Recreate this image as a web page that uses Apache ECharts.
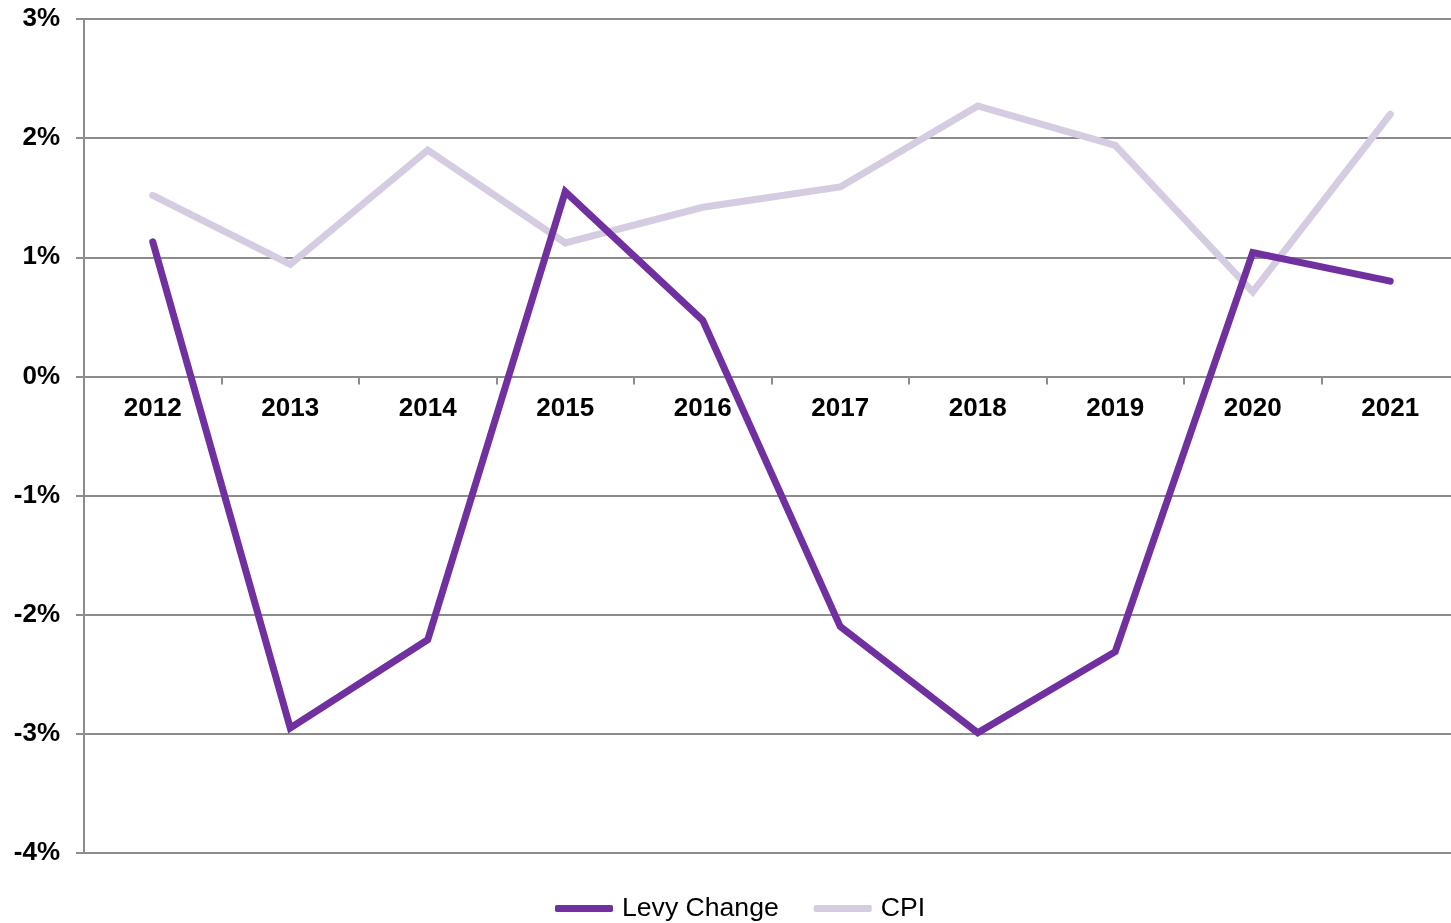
<!DOCTYPE html>
<html>
<head>
<meta charset="utf-8">
<script src="https://cdn.jsdelivr.net/npm/echarts@6/dist/echarts.min.js"></script>
<style>
  html, body { margin: 0; padding: 0; background: #ffffff; overflow: hidden; }
  #chart { width: 1451px; height: 923px; }
</style>
</head>
<body>
<div id="chart"></div>
<script>
// Annual levy change versus CPI, in percent
const years = ['2012', '2013', '2014', '2015', '2016', '2017', '2018', '2019', '2020', '2021'];
const levyChange = [1.13, -2.95, -2.21, 1.55, 0.47, -2.10, -2.99, -2.31, 1.04, 0.80];
const cpi = [1.52, 0.94, 1.90, 1.12, 1.42, 1.59, 2.27, 1.94, 0.71, 2.20];

const axisGrey = '#8c8c8c';
const font = '"Liberation Sans", Arial, sans-serif';

// plot box: the last category runs slightly past the right edge of the canvas
const plotTop = 19;
const plotHeight = 834;
const yMin = -4, yMax = 3;
// shift the category axis up so it sits on the 0% line
const zeroOffset = -plotHeight * (0 - yMin) / (yMax - yMin);

const chart = echarts.init(document.getElementById('chart'), null, { renderer: 'canvas' });

chart.setOption({
  animation: false,
  backgroundColor: '#ffffff',
  grid: {
    left: 84, width: 1375, top: plotTop, height: plotHeight,
    containLabel: false, outerBoundsMode: 'none'
  },
  legend: {
    left: 550,
    top: 890,
    itemWidth: 58,
    itemHeight: 7,
    itemGap: 35,
    icon: 'roundRect',
    textStyle: { fontFamily: font, fontSize: 26.6, color: '#000000', padding: [0, 0, 0, 4] },
    data: ['Levy Change', 'CPI']
  },
  xAxis: {
    type: 'category',
    data: years,
    boundaryGap: true,
    position: 'bottom',
    offset: zeroOffset,
    axisLine: { onZero: false, lineStyle: { color: axisGrey, width: 2 } },
    axisTick: { show: true, length: 8, inside: false, lineStyle: { color: axisGrey, width: 2 } },
    axisLabel: { margin: 19, fontFamily: font, fontSize: 26, fontWeight: 'bold', color: '#000000' },
    splitLine: { show: false }
  },
  yAxis: {
    type: 'value',
    min: yMin,
    max: yMax,
    interval: 1,
    axisLine: { show: true, lineStyle: { color: axisGrey, width: 2 } },
    axisTick: { show: true, length: 8, lineStyle: { color: axisGrey, width: 2 } },
    axisLabel: {
      margin: 24,
      fontFamily: font,
      fontSize: 26,
      fontWeight: 'bold',
      color: '#000000',
      formatter: v => v + '%'
    },
    splitLine: { show: true, lineStyle: { color: axisGrey, width: 2 } }
  },
  series: [
    {
      name: 'CPI',
      type: 'line',
      data: cpi,
      showSymbol: false,
      symbol: 'none',
      color: '#d5cce2',
      lineStyle: { width: 7, color: '#d5cce2', cap: 'round', join: 'miter' },
      z: 2
    },
    {
      name: 'Levy Change',
      type: 'line',
      data: levyChange,
      showSymbol: false,
      symbol: 'none',
      color: '#7030a0',
      lineStyle: { width: 7, color: '#7030a0', cap: 'round', join: 'miter' },
      z: 3
    }
  ]
});
</script>
</body>
</html>
